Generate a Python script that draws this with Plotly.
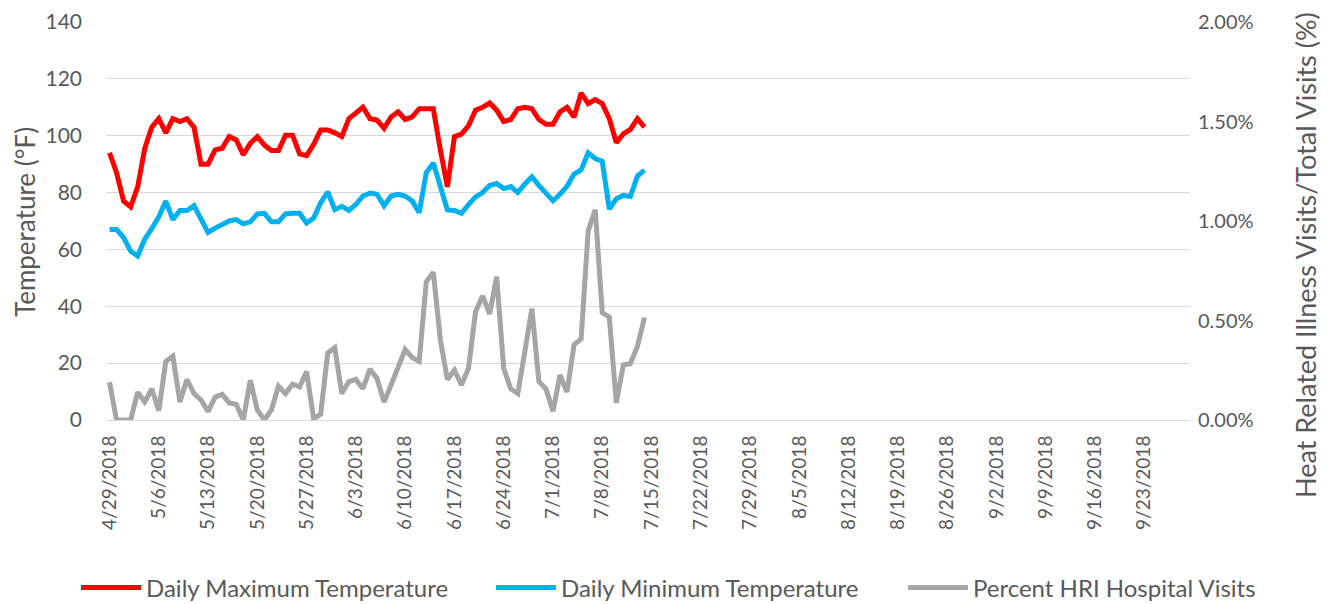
import plotly.graph_objects as go
import pandas as pd

start_date = "2018-04-29"
n_days = 77
dates = pd.date_range(start_date, periods=n_days, freq="D")

max_temp = [94, 87, 77, 75, 82, 95.5, 103, 106, 101, 106,
            105, 106, 103, 90, 90, 95, 95.6, 99.7, 98.5, 93.3,
            97.3, 99.7, 96.7, 94.8, 94.8, 100.2, 100.2, 93.6, 93, 97,
            102, 102, 101, 99.7, 106, 108, 110, 106, 105.5, 102.6,
            106.6, 108.4, 105.7, 106.6, 109.5, 109.5, 109.5, 95, 82, 99.7,
            100.6, 103.5, 109, 110, 111.5, 109, 105, 105.7, 109.5, 110,
            109.5, 105.7, 104, 104, 108.4, 110, 106.6, 115, 111.3, 112.7,
            111.3, 106, 97.6, 100.6, 102.2, 106, 103]

min_temp = [67, 67, 64.2, 59.4, 57.7, 63.6, 67.3, 71.5, 77, 70.5,
            73.7, 73.7, 75.4, 70.9, 66, 67.5, 69, 70, 70.5, 69,
            69.7, 72.5, 72.7, 69.7, 69.7, 72.5, 72.7, 72.7, 69.3, 71,
            76.4, 80.2, 74, 75.2, 73.7, 75.8, 78.8, 79.8, 79.4, 75.4,
            78.8, 79.4, 78.8, 77, 73, 87, 90.4, 81.7, 73.9, 73.7,
            72.7, 75.8, 78.5, 80, 82.5, 83.2, 81.4, 82.1, 80, 83,
            85.5, 82.5, 79.5, 77.1, 79.4, 82.2, 86.5, 88, 94, 92,
            91, 74.2, 77.8, 79, 78.6, 85.8, 87.9]

hri_pct = [0.19, 0, 0, 0, 0.14, 0.09, 0.157, 0.047, 0.294, 0.32,
           0.09, 0.204, 0.133, 0.101, 0.043, 0.114, 0.129, 0.086, 0.079, 0,
           0.2, 0.05, 0, 0.051, 0.17, 0.133, 0.18, 0.167, 0.243, 0.006,
           0.03, 0.337, 0.363, 0.133, 0.193, 0.204, 0.157, 0.256, 0.209, 0.09,
           0.176, 0.26, 0.354, 0.314, 0.294, 0.694, 0.743, 0.404, 0.204, 0.251,
           0.176, 0.26, 0.544, 0.623, 0.533, 0.72, 0.26, 0.157, 0.133, 0.343,
           0.56, 0.193, 0.157, 0.044, 0.226, 0.141, 0.379, 0.407, 0.95, 1.057,
           0.54, 0.517, 0.086, 0.277, 0.283, 0.371, 0.514]

tick_dates = pd.date_range("2018-04-29", "2018-09-23", freq="7D")
tick_labels = [f"{d.month}/{d.day}/{d.year}" for d in tick_dates]

FONT = "Lato"
TXT = "#595959"
GRID = "#d9d9d9"
# the page body adds an 8px margin, so the figure is drawn 8px smaller
W, H = 1322, 596

fig = go.Figure()
fig.add_trace(go.Scatter(x=dates, y=max_temp, mode="lines", name="Daily Maximum Temperature",
                         line=dict(color="#ff0000", width=5), legend="legend"))
fig.add_trace(go.Scatter(x=dates, y=min_temp, mode="lines", name="Daily Minimum Temperature",
                         line=dict(color="#00b0f0", width=5), legend="legend2"))
fig.add_trace(go.Scatter(x=dates, y=hri_pct, mode="lines", name="Percent HRI Hospital Visits",
                         line=dict(color="#a5a5a5", width=5), yaxis="y2", legend="legend3"))

def leg(xpx):
    return dict(orientation="h", xref="container", yref="container",
                x=xpx / W, xanchor="left", y=1 - 580 / H, yanchor="middle",
                font=dict(size=24, color=TXT, family=FONT), itemwidth=60,
                bgcolor="rgba(0,0,0,0)")

fig.update_layout(
    width=W, height=H,
    margin=dict(l=98, r=140, t=14, b=184),
    paper_bgcolor="white", plot_bgcolor="white",
    font=dict(family=FONT, color=TXT, size=20),
    showlegend=True,
    legend=leg(68), legend2=leg(483), legend3=leg(895),
    xaxis=dict(type="date", range=["2018-04-28 12:00", "2018-09-29 12:00"],
               tickvals=tick_dates, ticktext=tick_labels, tickangle=-90,
               tickfont=dict(size=19, color=TXT), showgrid=False, automargin=False,
               ticklabelstandoff=7,
               showline=True, linecolor=GRID, linewidth=1, ticks="", zeroline=False),
    yaxis=dict(range=[0, 140], dtick=20, tickfont=dict(size=21, color=TXT),
               showgrid=True, gridcolor=GRID, gridwidth=1, zeroline=False,
               automargin=False, ticklabelstandoff=23, ticks="", showline=False),
    yaxis2=dict(range=[0, 2], dtick=0.5, tickformat=".2f", ticksuffix="%", overlaying="y",
                side="right", showgrid=False, zeroline=False, tickfont=dict(size=20, color=TXT),
                automargin=False, ticklabelstandoff=7, ticks="", showline=False),
    annotations=[
        dict(text="Temperature (°F)", xref="paper", yref="paper",
             x=(25 - 106) / 1084, y=(420 - 222) / 398, textangle=-90, showarrow=False,
             xanchor="center", yanchor="middle", font=dict(size=26, color=TXT, family=FONT)),
        dict(text="Heat Related Illness Visits/Total Visits (%)", xref="paper", yref="paper",
             x=(1305 - 106) / 1084, y=(420 - 255) / 398, textangle=-90, showarrow=False,
             xanchor="center", yanchor="middle", font=dict(size=27, color=TXT, family=FONT)),
    ],
)

fig.write_html("out.html")
